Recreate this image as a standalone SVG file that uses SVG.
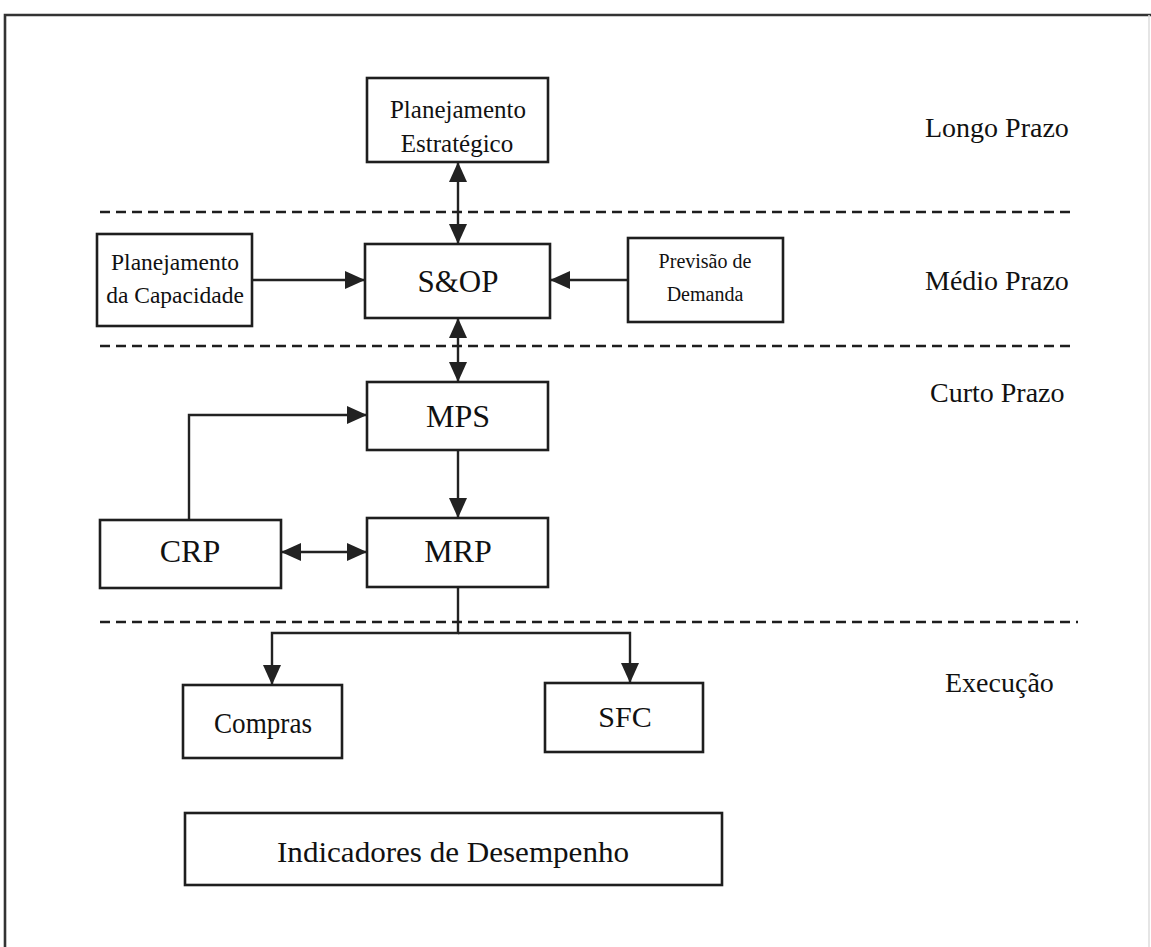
<svg xmlns="http://www.w3.org/2000/svg" width="1151" height="947" viewBox="0 0 1151 947">
<style>
.box{fill:#fff;stroke:#1e1e1e;stroke-width:2.6}
.t{font-family:"Liberation Serif","Times New Roman",serif;fill:#111;text-anchor:middle}
.lbl{font-family:"Liberation Serif","Times New Roman",serif;fill:#111;font-size:28px}
.dash{stroke:#1e1e1e;stroke-width:2.4;stroke-dasharray:10 6;fill:none}
.c{stroke:#222;stroke-width:2.4;fill:none}
</style>
<defs>
<marker id="ah" markerUnits="userSpaceOnUse" markerWidth="20" markerHeight="20" viewBox="0 0 20 20" refX="20" refY="10" orient="auto-start-reverse">
<path d="M0,1 L20,10 L0,19 z" fill="#222"/>
</marker>
</defs>
<rect x="0" y="0" width="1151" height="947" fill="#fff"/>
<g id="frame">
<path d="M5,947 V15 H1151" fill="none" stroke="#333" stroke-width="2.6"/>
<line x1="1149" y1="15" x2="1149" y2="947" stroke="#ddd" stroke-width="1.5"/>
</g>
<g id="separators">
<line class="dash" x1="100" y1="212" x2="1075" y2="212"/>
<line class="dash" x1="100" y1="346" x2="1075" y2="346"/>
<line class="dash" x1="100" y1="622" x2="1078" y2="622"/>
</g>
<g id="horizon-labels">
<text class="lbl" x="925" y="137">Longo Prazo</text>
<text class="lbl" x="925" y="290">Médio Prazo</text>
<text class="lbl" x="930" y="402">Curto Prazo</text>
<text class="lbl" x="945" y="692">Execução</text>
</g>
<g id="connectors">
<line class="c" x1="458" y1="162" x2="458" y2="244" marker-start="url(#ah)" marker-end="url(#ah)"/>
<line class="c" x1="252" y1="280" x2="365" y2="280" marker-end="url(#ah)"/>
<line class="c" x1="628" y1="280" x2="550" y2="280" marker-end="url(#ah)"/>
<line class="c" x1="458" y1="318" x2="458" y2="382" marker-start="url(#ah)" marker-end="url(#ah)"/>
<line class="c" x1="458" y1="450" x2="458" y2="518" marker-end="url(#ah)"/>
<path class="c" d="M189,520 V415 H367" marker-end="url(#ah)"/>
<line class="c" x1="281" y1="552" x2="367" y2="552" marker-start="url(#ah)" marker-end="url(#ah)"/>
<path class="c" d="M458,587 V633 H272 V685" marker-end="url(#ah)"/>
<path class="c" d="M458,633 H630 V683" marker-end="url(#ah)"/>
</g>
<g id="planejamento-estrategico">
<rect class="box" x="367" y="78" width="181" height="84"/>
<text class="t" x="458" y="118" font-size="25">Planejamento</text>
<text class="t" x="457" y="152" font-size="25">Estratégico</text>
</g>
<g id="planejamento-capacidade">
<rect class="box" x="97" y="234" width="155" height="92"/>
<text class="t" x="175" y="270" font-size="23.5">Planejamento</text>
<text class="t" x="175" y="303" font-size="23.5">da Capacidade</text>
</g>
<g id="sop">
<rect class="box" x="365" y="244" width="185" height="74"/>
<text class="t" x="458" y="292" font-size="31">S&amp;OP</text>
</g>
<g id="previsao-demanda">
<rect class="box" x="628" y="238" width="155" height="84"/>
<text class="t" x="705" y="268" font-size="20">Previsão de</text>
<text class="t" x="705" y="301" font-size="20">Demanda</text>
</g>
<g id="mps">
<rect class="box" x="367" y="382" width="181" height="68"/>
<text class="t" x="458" y="427" font-size="32">MPS</text>
</g>
<g id="crp">
<rect class="box" x="100" y="520" width="181" height="68"/>
<text class="t" x="190" y="562" font-size="32">CRP</text>
</g>
<g id="mrp">
<rect class="box" x="367" y="518" width="181" height="69"/>
<text class="t" x="458" y="562" font-size="32">MRP</text>
</g>
<g id="compras">
<rect class="box" x="183" y="685" width="159" height="73"/>
<text class="t" x="263" y="733" font-size="30" textLength="98" lengthAdjust="spacingAndGlyphs">Compras</text>
</g>
<g id="sfc">
<rect class="box" x="545" y="683" width="158" height="69"/>
<text class="t" x="625" y="727" font-size="30">SFC</text>
</g>
<g id="indicadores">
<rect class="box" x="185" y="813" width="537" height="72"/>
<text class="t" x="453" y="862" font-size="30" textLength="352" lengthAdjust="spacingAndGlyphs">Indicadores de Desempenho</text>
</g>
</svg>
